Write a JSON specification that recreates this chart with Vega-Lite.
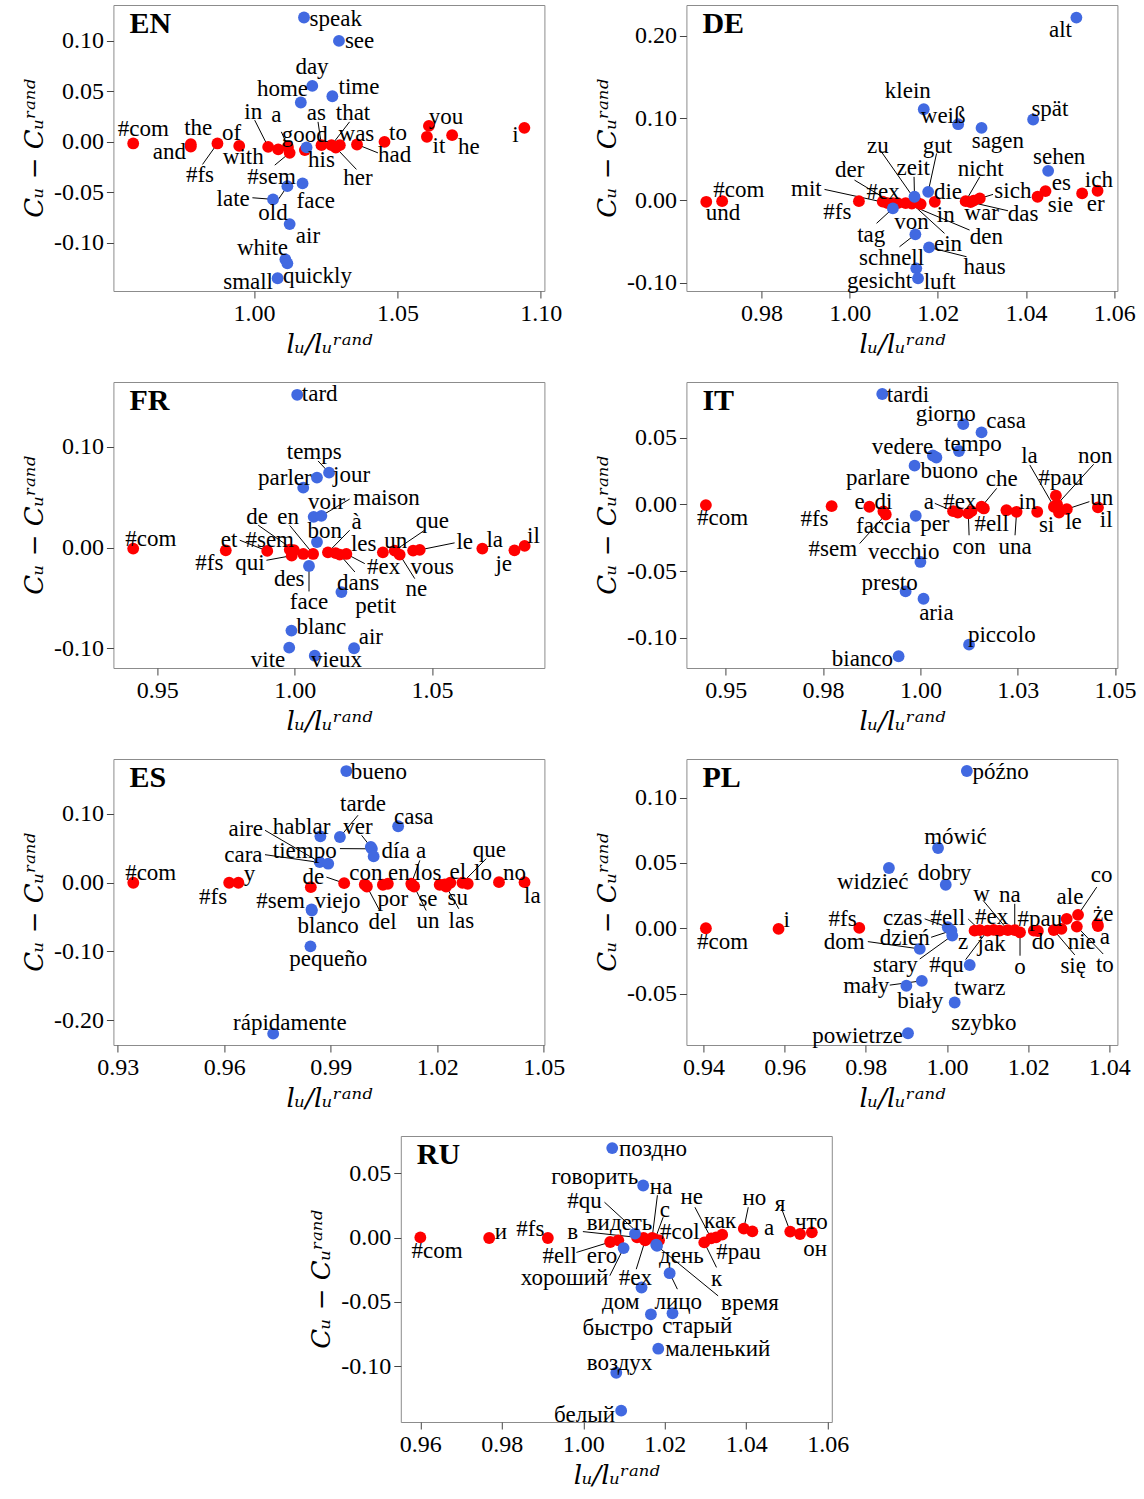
{
"$schema": "https://vega.github.io/schema/vega-lite/v6.json",
"padding": {"left": 20, "top": 4, "right": 0, "bottom": 0},
"background": "white",
"center": true,
"spacing": 23,
"datasets": {
"EN": [
{"w":"#com","t":"fn","x":0.9578,"y":-0.0016,"lx":0.9613,"ly":0.0123},
{"w":"the","t":"fn","x":0.9779,"y":-0.0023,"lx":0.9805,"ly":0.0139},
{"w":"and","t":"fn","x":0.9779,"y":-0.0048,"lx":0.9704,"ly":-0.0099},
{"w":"#fs","t":"fn","x":0.9872,"y":-0.0016,"lx":0.9811,"ly":-0.0330,"ex":0.9820,"ey":-0.0224},
{"w":"of","t":"fn","x":0.9948,"y":-0.0040,"lx":0.9921,"ly":0.0083},
{"w":"with","t":"fn","x":1.0084,"y":-0.0075,"lx":0.9962,"ly":-0.0149},
{"w":"in","t":"fn","x":1.0049,"y":-0.0050,"lx":0.9997,"ly":0.0297,"ex":1.0002,"ey":0.0215},
{"w":"a","t":"fn","x":1.0118,"y":-0.0050,"lx":1.0078,"ly":0.0264,"ex":1.0095,"ey":0.0099},
{"w":"#sem","t":"fn","x":1.0124,"y":-0.0109,"lx":1.0061,"ly":-0.0347,"ex":1.0072,"ey":-0.0231},
{"w":"his","t":"fn","x":1.0177,"y":-0.0082,"lx":1.0235,"ly":-0.0181},
{"w":"as","t":"fn","x":1.0235,"y":-0.0033,"lx":1.0217,"ly":0.0281,"ex":1.0223,"ey":0.0198},
{"w":"that","t":"fn","x":1.0270,"y":-0.0033,"lx":1.0345,"ly":0.0281,"ex":1.0333,"ey":0.0198},
{"w":"was","t":"fn","x":1.0299,"y":-0.0033,"lx":1.0357,"ly":0.0076},
{"w":"her","t":"fn","x":1.0285,"y":-0.0057,"lx":1.0362,"ly":-0.0362,"ex":1.0357,"ey":-0.0273},
{"w":"had","t":"fn","x":1.0359,"y":-0.0026,"lx":1.0490,"ly":-0.0132,"ex":1.0432,"ey":-0.0109},
{"w":"to","t":"fn","x":1.0455,"y":0.0000,"lx":1.0502,"ly":0.0083},
{"w":"you","t":"fn","x":1.0610,"y":0.0158,"lx":1.0670,"ly":0.0248},
{"w":"it","t":"fn","x":1.0603,"y":0.0050,"lx":1.0645,"ly":-0.0040},
{"w":"he","t":"fn","x":1.0691,"y":0.0066,"lx":1.0749,"ly":-0.0050},
{"w":"i","t":"fn","x":1.0943,"y":0.0139,"lx":1.0912,"ly":0.0066},
{"w":"speak","t":"ct","x":1.0174,"y":0.1232,"lx":1.0285,"ly":0.1222},
{"w":"see","t":"ct","x":1.0296,"y":0.1000,"lx":1.0368,"ly":0.1000},
{"w":"day","t":"ct","x":1.0203,"y":0.0554,"lx":1.0202,"ly":0.0743},
{"w":"home","t":"ct","x":1.0163,"y":0.0390,"lx":1.0099,"ly":0.0519},
{"w":"time","t":"ct","x":1.0273,"y":0.0452,"lx":1.0366,"ly":0.0539},
{"w":"good","t":"ct","x":1.0183,"y":-0.0055,"lx":1.0177,"ly":0.0066},
{"w":"face","t":"ct","x":1.0169,"y":-0.0412,"lx":1.0215,"ly":-0.0587},
{"w":"old","t":"ct","x":1.0116,"y":-0.0439,"lx":1.0066,"ly":-0.0709,"ex":1.0075,"ey":-0.0610},
{"w":"late","t":"ct","x":1.0066,"y":-0.0570,"lx":0.9927,"ly":-0.0570,"ex":0.9994,"ey":-0.0554},
{"w":"air","t":"ct","x":1.0124,"y":-0.0815,"lx":1.0188,"ly":-0.0934},
{"w":"white","t":"ct","x":1.0109,"y":-0.1164,"lx":1.0029,"ly":-0.1055},
{"w":"quickly","t":"ct","x":1.0116,"y":-0.1204,"lx":1.0221,"ly":-0.1330},
{"w":"small","t":"ct","x":1.0082,"y":-0.1352,"lx":0.9979,"ly":-0.1386}
],
"DE": [
{"w":"und","t":"fn","x":0.9675,"y":-0.0017,"lx":0.9713,"ly":-0.0158},
{"w":"#com","t":"fn","x":0.9711,"y":-0.0009,"lx":0.9749,"ly":0.0125},
{"w":"#fs","t":"fn","x":1.0021,"y":-0.0009,"lx":0.9972,"ly":-0.0139},
{"w":"#ex","t":"fn","x":1.0075,"y":-0.0015,"lx":1.0076,"ly":0.0104},
{"w":"mit","t":"fn","x":1.0086,"y":-0.0033,"lx":0.9902,"ly":0.0134,"ex":0.9943,"ey":0.0134},
{"w":"der","t":"fn","x":1.0098,"y":-0.0033,"lx":1.0000,"ly":0.0368,"ex":1.0011,"ey":0.0247},
{"w":"von","t":"fn","x":1.0109,"y":-0.0033,"lx":1.0140,"ly":-0.0260},
{"w":"den","t":"fn","x":1.0127,"y":-0.0033,"lx":1.0310,"ly":-0.0450,"ex":1.0272,"ey":-0.0361},
{"w":"ein","t":"fn","x":1.0141,"y":-0.0039,"lx":1.0223,"ly":-0.0531,"ex":1.0215,"ey":-0.0401},
{"w":"zu","t":"fn","x":1.0152,"y":-0.0021,"lx":1.0064,"ly":0.0663,"ex":1.0072,"ey":0.0591},
{"w":"in","t":"fn","x":1.0161,"y":-0.0045,"lx":1.0218,"ly":-0.0180},
{"w":"die","t":"fn","x":1.0193,"y":-0.0017,"lx":1.0223,"ly":0.0104},
{"w":"nicht","t":"fn","x":1.0263,"y":-0.0009,"lx":1.0297,"ly":0.0377,"ex":1.0295,"ey":0.0287},
{"w":"das","t":"fn","x":1.0274,"y":-0.0021,"lx":1.0393,"ly":-0.0170,"ex":1.0359,"ey":-0.0126},
{"w":"war","t":"fn","x":1.0281,"y":-0.0002,"lx":1.0299,"ly":-0.0158},
{"w":"sich","t":"fn","x":1.0295,"y":0.0024,"lx":1.0370,"ly":0.0117,"ex":1.0325,"ey":0.0073},
{"w":"sie","t":"fn","x":1.0426,"y":0.0044,"lx":1.0478,"ly":-0.0057},
{"w":"es","t":"fn","x":1.0444,"y":0.0113,"lx":1.0480,"ly":0.0214},
{"w":"er","t":"fn","x":1.0527,"y":0.0085,"lx":1.0558,"ly":-0.0045},
{"w":"ich","t":"fn","x":1.0562,"y":0.0117,"lx":1.0565,"ly":0.0247},
{"w":"alt","t":"ct","x":1.0514,"y":0.2224,"lx":1.0478,"ly":0.2078},
{"w":"klein","t":"ct","x":1.0168,"y":0.1109,"lx":1.0132,"ly":0.1332},
{"w":"weiß","t":"ct","x":1.0246,"y":0.0927,"lx":1.0212,"ly":0.1024},
{"w":"sagen","t":"ct","x":1.0299,"y":0.0882,"lx":1.0336,"ly":0.0724},
{"w":"spät","t":"ct","x":1.0416,"y":0.0984,"lx":1.0454,"ly":0.1106},
{"w":"sehen","t":"ct","x":1.0450,"y":0.0360,"lx":1.0475,"ly":0.0522},
{"w":"zeit","t":"ct","x":1.0147,"y":0.0044,"lx":1.0144,"ly":0.0389,"ex":1.0146,"ey":0.0287},
{"w":"gut","t":"ct","x":1.0178,"y":0.0104,"lx":1.0199,"ly":0.0663,"ex":1.0197,"ey":0.0571},
{"w":"tag","t":"ct","x":1.0098,"y":-0.0097,"lx":1.0049,"ly":-0.0422,"ex":1.0061,"ey":-0.0279},
{"w":"schnell","t":"ct","x":1.0149,"y":-0.0413,"lx":1.0095,"ly":-0.0697,"ex":1.0113,"ey":-0.0564},
{"w":"haus","t":"ct","x":1.0180,"y":-0.0571,"lx":1.0306,"ly":-0.0807,"ex":1.0265,"ey":-0.0685},
{"w":"gesicht","t":"ct","x":1.0151,"y":-0.0826,"lx":1.0068,"ly":-0.0977},
{"w":"luft","t":"ct","x":1.0155,"y":-0.0948,"lx":1.0204,"ly":-0.0989}
],
"FR": [
{"w":"#com","t":"fn","x":0.9412,"y":-0.0010,"lx":0.9476,"ly":0.0090},
{"w":"#fs","t":"fn","x":0.9749,"y":-0.0027,"lx":0.9689,"ly":-0.0149},
{"w":"et","t":"fn","x":0.9900,"y":-0.0033,"lx":0.9761,"ly":0.0080,"ex":0.9800,"ey":0.0073},
{"w":"#sem","t":"fn","x":0.9982,"y":-0.0020,"lx":0.9909,"ly":0.0080},
{"w":"de","t":"fn","x":0.9997,"y":-0.0025,"lx":0.9863,"ly":0.0305,"ex":0.9867,"ey":0.0222},
{"w":"qui","t":"fn","x":0.9989,"y":-0.0080,"lx":0.9837,"ly":-0.0149,"ex":0.9897,"ey":-0.0126},
{"w":"des","t":"fn","x":1.0031,"y":-0.0063,"lx":0.9980,"ly":-0.0308},
{"w":"en","t":"fn","x":1.0067,"y":-0.0063,"lx":0.9976,"ly":0.0301,"ex":0.9982,"ey":0.0219},
{"w":"à","t":"fn","x":1.0121,"y":-0.0047,"lx":1.0225,"ly":0.0256,"ex":1.0200,"ey":0.0172},
{"w":"les","t":"fn","x":1.0149,"y":-0.0055,"lx":1.0251,"ly":0.0040},
{"w":"dans","t":"fn","x":1.0164,"y":-0.0070,"lx":1.0231,"ly":-0.0348,"ex":1.0219,"ey":-0.0242},
{"w":"#ex","t":"fn","x":1.0188,"y":-0.0063,"lx":1.0324,"ly":-0.0192,"ex":1.0255,"ey":-0.0159},
{"w":"un","t":"fn","x":1.0321,"y":-0.0047,"lx":1.0368,"ly":0.0067},
{"w":"que","t":"fn","x":1.0364,"y":-0.0030,"lx":1.0501,"ly":0.0262,"ex":1.0473,"ey":0.0172},
{"w":"ne","t":"fn","x":1.0382,"y":-0.0070,"lx":1.0443,"ly":-0.0415,"ex":1.0437,"ey":-0.0308},
{"w":"vous","t":"fn","x":1.0431,"y":-0.0030,"lx":1.0501,"ly":-0.0192},
{"w":"le","t":"fn","x":1.0455,"y":-0.0023,"lx":1.0619,"ly":0.0057,"ex":1.0582,"ey":0.0047},
{"w":"la","t":"fn","x":1.0683,"y":-0.0010,"lx":1.0728,"ly":0.0080},
{"w":"je","t":"fn","x":1.0800,"y":-0.0027,"lx":1.0761,"ly":-0.0159},
{"w":"il","t":"fn","x":1.0837,"y":0.0017,"lx":1.0869,"ly":0.0112},
{"w":"tard","t":"ct","x":1.0009,"y":0.1515,"lx":1.0091,"ly":0.1522},
{"w":"temps","t":"ct","x":1.0125,"y":0.0743,"lx":1.0071,"ly":0.0945,"ex":1.0085,"ey":0.0859},
{"w":"jour","t":"ct","x":1.0081,"y":0.0694,"lx":1.0207,"ly":0.0719},
{"w":"parler","t":"ct","x":1.0031,"y":0.0594,"lx":0.9964,"ly":0.0694},
{"w":"voir","t":"ct","x":1.0069,"y":0.0305,"lx":1.0116,"ly":0.0455},
{"w":"maison","t":"ct","x":1.0097,"y":0.0315,"lx":1.0334,"ly":0.0495,"ex":1.0200,"ey":0.0481},
{"w":"bon","t":"ct","x":1.0081,"y":0.0055,"lx":1.0109,"ly":0.0162},
{"w":"face","t":"ct","x":1.0052,"y":-0.0182,"lx":1.0052,"ly":-0.0540,"ex":1.0052,"ey":-0.0435},
{"w":"petit","t":"ct","x":1.0170,"y":-0.0441,"lx":1.0295,"ly":-0.0584},
{"w":"blanc","t":"ct","x":0.9988,"y":-0.0823,"lx":1.0097,"ly":-0.0789},
{"w":"vite","t":"ct","x":0.9980,"y":-0.0992,"lx":0.9903,"ly":-0.1114},
{"w":"vieux","t":"ct","x":1.0073,"y":-0.1072,"lx":1.0152,"ly":-0.1114},
{"w":"air","t":"ct","x":1.0216,"y":-0.0998,"lx":1.0277,"ly":-0.0889}
],
"IT": [
{"w":"#com","t":"fn","x":0.9449,"y":-0.0006,"lx":0.9492,"ly":-0.0106},
{"w":"#fs","t":"fn","x":0.9772,"y":-0.0014,"lx":0.9728,"ly":-0.0111},
{"w":"e","t":"fn","x":0.9869,"y":-0.0018,"lx":0.9844,"ly":0.0014},
{"w":"di","t":"fn","x":0.9905,"y":-0.0053,"lx":0.9905,"ly":0.0020},
{"w":"#sem","t":"fn","x":0.9911,"y":-0.0076,"lx":0.9775,"ly":-0.0332,"ex":0.9844,"ey":-0.0294},
{"w":"a","t":"fn","x":1.0084,"y":-0.0051,"lx":1.0022,"ly":0.0014,"ex":1.0037,"ey":0.0007},
{"w":"#ex","t":"fn","x":1.0096,"y":-0.0061,"lx":1.0101,"ly":0.0020},
{"w":"per","t":"fn","x":1.0131,"y":-0.0051,"lx":1.0037,"ly":-0.0151},
{"w":"con","t":"fn","x":1.0123,"y":-0.0068,"lx":1.0125,"ly":-0.0319,"ex":1.0125,"ey":-0.0232},
{"w":"#ell","t":"fn","x":1.0163,"y":-0.0031,"lx":1.0183,"ly":-0.0144},
{"w":"che","t":"fn","x":1.0157,"y":-0.0018,"lx":1.0209,"ly":0.0190,"ex":1.0196,"ey":0.0120},
{"w":"in","t":"fn","x":1.0221,"y":-0.0044,"lx":1.0275,"ly":0.0020},
{"w":"una","t":"fn","x":1.0247,"y":-0.0056,"lx":1.0243,"ly":-0.0319,"ex":1.0243,"ey":-0.0232},
{"w":"si","t":"fn","x":1.0300,"y":-0.0056,"lx":1.0324,"ly":-0.0157},
{"w":"la","t":"fn","x":1.0343,"y":-0.0018,"lx":1.0280,"ly":0.0366,"ex":1.0281,"ey":0.0295},
{"w":"#pau","t":"fn","x":1.0348,"y":0.0065,"lx":1.0361,"ly":0.0195},
{"w":"non","t":"fn","x":1.0351,"y":-0.0001,"lx":1.0449,"ly":0.0366,"ex":1.0445,"ey":0.0300},
{"w":"le","t":"fn","x":1.0356,"y":-0.0061,"lx":1.0393,"ly":-0.0136},
{"w":"un","t":"fn","x":1.0376,"y":-0.0036,"lx":1.0466,"ly":0.0050,"ex":1.0434,"ey":0.0020},
{"w":"il","t":"fn","x":1.0456,"y":-0.0023,"lx":1.0477,"ly":-0.0119},
{"w":"tardi","t":"ct","x":0.9902,"y":0.0827,"lx":0.9968,"ly":0.0822},
{"w":"giorno","t":"ct","x":1.0110,"y":0.0601,"lx":1.0065,"ly":0.0676},
{"w":"casa","t":"ct","x":1.0157,"y":0.0539,"lx":1.0220,"ly":0.0626},
{"w":"vedere","t":"ct","x":1.0032,"y":0.0366,"lx":0.9954,"ly":0.0433},
{"w":"buono","t":"ct","x":1.0041,"y":0.0351,"lx":1.0074,"ly":0.0253},
{"w":"tempo","t":"ct","x":1.0099,"y":0.0400,"lx":1.0135,"ly":0.0451},
{"w":"parlare","t":"ct","x":0.9985,"y":0.0290,"lx":0.9891,"ly":0.0200},
{"w":"faccia","t":"ct","x":0.9988,"y":-0.0086,"lx":0.9905,"ly":-0.0164},
{"w":"vecchio","t":"ct","x":1.0000,"y":-0.0432,"lx":0.9957,"ly":-0.0357},
{"w":"presto","t":"ct","x":0.9962,"y":-0.0653,"lx":0.9921,"ly":-0.0588},
{"w":"aria","t":"ct","x":1.0008,"y":-0.0708,"lx":1.0041,"ly":-0.0816},
{"w":"piccolo","t":"ct","x":1.0125,"y":-0.1052,"lx":1.0209,"ly":-0.0979},
{"w":"bianco","t":"ct","x":0.9944,"y":-0.1139,"lx":0.9851,"ly":-0.1160}
],
"ES": [
{"w":"#com","t":"fn","x":0.9344,"y":-0.0003,"lx":0.9393,"ly":0.0143},
{"w":"#fs","t":"fn","x":0.9614,"y":-0.0003,"lx":0.9569,"ly":-0.0213},
{"w":"y","t":"fn","x":0.9640,"y":-0.0003,"lx":0.9671,"ly":0.0128},
{"w":"#sem","t":"fn","x":0.9844,"y":-0.0067,"lx":0.9759,"ly":-0.0261},
{"w":"de","t":"fn","x":0.9938,"y":-0.0009,"lx":0.9851,"ly":0.0079,"ex":0.9888,"ey":0.0079},
{"w":"con","t":"fn","x":0.9996,"y":-0.0028,"lx":0.9999,"ly":0.0143},
{"w":"del","t":"fn","x":1.0002,"y":-0.0057,"lx":1.0046,"ly":-0.0577,"ex":1.0038,"ey":-0.0407},
{"w":"por","t":"fn","x":1.0047,"y":-0.0032,"lx":1.0075,"ly":-0.0236},
{"w":"en","t":"fn","x":1.0061,"y":-0.0017,"lx":1.0092,"ly":0.0143},
{"w":"a","t":"fn","x":1.0127,"y":-0.0017,"lx":1.0155,"ly":0.0453,"ex":1.0151,"ey":0.0322},
{"w":"se","t":"fn","x":1.0129,"y":-0.0035,"lx":1.0174,"ly":-0.0236},
{"w":"un","t":"fn","x":1.0135,"y":-0.0057,"lx":1.0174,"ly":-0.0563,"ex":1.0169,"ey":-0.0407},
{"w":"los","t":"fn","x":1.0207,"y":-0.0032,"lx":1.0174,"ly":0.0143},
{"w":"su","t":"fn","x":1.0221,"y":-0.0028,"lx":1.0258,"ly":-0.0227},
{"w":"las","t":"fn","x":1.0225,"y":-0.0057,"lx":1.0268,"ly":-0.0552,"ex":1.0261,"ey":-0.0382},
{"w":"el","t":"fn","x":1.0237,"y":-0.0003,"lx":1.0258,"ly":0.0152},
{"w":"que","t":"fn","x":1.0271,"y":-0.0003,"lx":1.0347,"ly":0.0478,"ex":1.0338,"ey":0.0347},
{"w":"lo","t":"fn","x":1.0286,"y":-0.0017,"lx":1.0329,"ly":0.0143},
{"w":"no","t":"fn","x":1.0374,"y":0.0006,"lx":1.0418,"ly":0.0143},
{"w":"la","t":"fn","x":1.0446,"y":0.0006,"lx":1.0468,"ly":-0.0198},
{"w":"bueno","t":"ct","x":0.9944,"y":0.1620,"lx":1.0036,"ly":0.1601},
{"w":"tarde","t":"ct","x":0.9926,"y":0.0662,"lx":0.9991,"ly":0.1134,"ex":0.9977,"ey":0.0978},
{"w":"casa","t":"ct","x":1.0090,"y":0.0818,"lx":1.0134,"ly":0.0953},
{"w":"hablar","t":"ct","x":0.9871,"y":0.0672,"lx":0.9818,"ly":0.0808},
{"w":"ver","t":"ct","x":1.0013,"y":0.0516,"lx":0.9977,"ly":0.0808,"ex":0.9987,"ey":0.0687},
{"w":"tiempo","t":"ct","x":1.0016,"y":0.0490,"lx":0.9827,"ly":0.0453,"ex":0.9926,"ey":0.0493},
{"w":"día","t":"ct","x":1.0021,"y":0.0380,"lx":1.0083,"ly":0.0453},
{"w":"aire","t":"ct","x":0.9869,"y":0.0297,"lx":0.9661,"ly":0.0774,"ex":0.9715,"ey":0.0759},
{"w":"cara","t":"ct","x":0.9893,"y":0.0274,"lx":0.9654,"ly":0.0405,"ex":0.9715,"ey":0.0405},
{"w":"viejo","t":"ct","x":0.9846,"y":-0.0392,"lx":0.9919,"ly":-0.0261},
{"w":"blanco","t":"ct","x":0.9847,"y":-0.0407,"lx":0.9893,"ly":-0.0625},
{"w":"pequeño","t":"ct","x":0.9843,"y":-0.0927,"lx":0.9893,"ly":-0.1111},
{"w":"rápidamente","t":"ct","x":0.9738,"y":-0.2195,"lx":0.9785,"ly":-0.2044}
],
"PL": [
{"w":"#com","t":"fn","x":0.9406,"y":0.0000,"lx":0.9447,"ly":-0.0107},
{"w":"i","t":"fn","x":0.9585,"y":-0.0005,"lx":0.9605,"ly":0.0067},
{"w":"#fs","t":"fn","x":0.9784,"y":0.0003,"lx":0.9743,"ly":0.0072},
{"w":"z","t":"fn","x":1.0068,"y":-0.0018,"lx":1.0040,"ly":-0.0107},
{"w":"#ell","t":"fn","x":1.0081,"y":-0.0014,"lx":1.0002,"ly":0.0080,"ex":1.0052,"ey":0.0072},
{"w":"#qu","t":"fn","x":1.0100,"y":-0.0018,"lx":0.9999,"ly":-0.0281,"ex":1.0046,"ey":-0.0240},
{"w":"#ex","t":"fn","x":1.0115,"y":-0.0012,"lx":1.0110,"ly":0.0084},
{"w":"jak","t":"fn","x":1.0130,"y":-0.0018,"lx":1.0110,"ly":-0.0120},
{"w":"w","t":"fn","x":1.0150,"y":-0.0014,"lx":1.0085,"ly":0.0264,"ex":1.0089,"ey":0.0213},
{"w":"na","t":"fn","x":1.0167,"y":-0.0014,"lx":1.0155,"ly":0.0251,"ex":1.0167,"ey":0.0187},
{"w":"o","t":"fn","x":1.0180,"y":-0.0031,"lx":1.0180,"ly":-0.0299,"ex":1.0180,"ey":-0.0210},
{"w":"#pau","t":"fn","x":1.0214,"y":-0.0018,"lx":1.0229,"ly":0.0072},
{"w":"do","t":"fn","x":1.0224,"y":-0.0021,"lx":1.0237,"ly":-0.0107},
{"w":"się","t":"fn","x":1.0263,"y":-0.0014,"lx":1.0311,"ly":-0.0286,"ex":1.0315,"ey":-0.0204},
{"w":"nie","t":"fn","x":1.0282,"y":-0.0005,"lx":1.0332,"ly":-0.0107},
{"w":"ale","t":"fn","x":1.0295,"y":0.0072,"lx":1.0303,"ly":0.0238},
{"w":"co","t":"fn","x":1.0323,"y":0.0103,"lx":1.0381,"ly":0.0405,"ex":1.0369,"ey":0.0315},
{"w":"to","t":"fn","x":1.0320,"y":0.0013,"lx":1.0389,"ly":-0.0281,"ex":1.0385,"ey":-0.0197},
{"w":"że","t":"fn","x":1.0371,"y":0.0032,"lx":1.0385,"ly":0.0111},
{"w":"a","t":"fn","x":1.0372,"y":0.0017,"lx":1.0389,"ly":-0.0069},
{"w":"późno","t":"ct","x":1.0049,"y":0.1203,"lx":1.0132,"ly":0.1198},
{"w":"mówić","t":"ct","x":0.9978,"y":0.0614,"lx":1.0021,"ly":0.0699},
{"w":"widzieć","t":"ct","x":0.9857,"y":0.0461,"lx":0.9817,"ly":0.0353},
{"w":"dobry","t":"ct","x":0.9997,"y":0.0333,"lx":0.9994,"ly":0.0425},
{"w":"czas","t":"ct","x":1.0002,"y":0.0008,"lx":0.9891,"ly":0.0080,"ex":0.9945,"ey":0.0072},
{"w":"dzień","t":"ct","x":1.0011,"y":-0.0018,"lx":0.9896,"ly":-0.0077,"ex":0.9961,"ey":-0.0069},
{"w":"stary","t":"ct","x":1.0013,"y":-0.0056,"lx":0.9873,"ly":-0.0281,"ex":0.9933,"ey":-0.0235},
{"w":"dom","t":"ct","x":0.9933,"y":-0.0158,"lx":0.9747,"ly":-0.0107,"ex":0.9805,"ey":-0.0102},
{"w":"twarz","t":"ct","x":1.0056,"y":-0.0281,"lx":1.0081,"ly":-0.0458},
{"w":"mały","t":"ct","x":0.9938,"y":-0.0402,"lx":0.9801,"ly":-0.0440,"ex":0.9859,"ey":-0.0435},
{"w":"biały","t":"ct","x":0.9900,"y":-0.0440,"lx":0.9934,"ly":-0.0555},
{"w":"szybko","t":"ct","x":1.0019,"y":-0.0568,"lx":1.0091,"ly":-0.0722},
{"w":"powietrze","t":"ct","x":0.9904,"y":-0.0803,"lx":0.9780,"ly":-0.0824}
],
"RU": [
{"w":"#com","t":"fn","x":0.9600,"y":0.0001,"lx":0.9641,"ly":-0.0102},
{"w":"и","t":"fn","x":0.9769,"y":-0.0004,"lx":0.9798,"ly":0.0040},
{"w":"#fs","t":"fn","x":0.9913,"y":-0.0004,"lx":0.9870,"ly":0.0066},
{"w":"#ell","t":"fn","x":1.0066,"y":-0.0035,"lx":0.9942,"ly":-0.0141,"ex":0.9983,"ey":-0.0116},
{"w":"его","t":"fn","x":1.0086,"y":-0.0022,"lx":1.0046,"ly":-0.0147},
{"w":"в","t":"fn","x":1.0132,"y":0.0001,"lx":0.9974,"ly":0.0040,"ex":0.9999,"ey":0.0046},
{"w":"#qu","t":"fn","x":1.0148,"y":-0.0004,"lx":1.0003,"ly":0.0287,"ex":1.0052,"ey":0.0274},
{"w":"#ex","t":"fn","x":1.0152,"y":-0.0022,"lx":1.0128,"ly":-0.0318,"ex":1.0130,"ey":-0.0246},
{"w":"на","t":"fn","x":1.0169,"y":-0.0003,"lx":1.0191,"ly":0.0391,"ex":1.0182,"ey":0.0328},
{"w":"с","t":"fn","x":1.0176,"y":-0.0014,"lx":1.0200,"ly":0.0217,"ex":1.0196,"ey":0.0157},
{"w":"#col","t":"fn","x":1.0186,"y":-0.0022,"lx":1.0237,"ly":0.0046},
{"w":"к","t":"fn","x":1.0297,"y":-0.0038,"lx":1.0327,"ly":-0.0324,"ex":1.0327,"ey":-0.0232},
{"w":"не","t":"fn","x":1.0314,"y":-0.0007,"lx":1.0266,"ly":0.0313,"ex":1.0274,"ey":0.0235},
{"w":"как","t":"fn","x":1.0326,"y":0.0001,"lx":1.0336,"ly":0.0131},
{"w":"#pau","t":"fn","x":1.0341,"y":0.0022,"lx":1.0381,"ly":-0.0116},
{"w":"но","t":"fn","x":1.0394,"y":0.0069,"lx":1.0420,"ly":0.0305,"ex":1.0405,"ey":0.0235},
{"w":"а","t":"fn","x":1.0415,"y":0.0048,"lx":1.0456,"ly":0.0071},
{"w":"я","t":"fn","x":1.0508,"y":0.0046,"lx":1.0483,"ly":0.0261,"ex":1.0487,"ey":0.0222},
{"w":"он","t":"fn","x":1.0532,"y":0.0027,"lx":1.0569,"ly":-0.0090},
{"w":"что","t":"fn","x":1.0561,"y":0.0040,"lx":1.0560,"ly":0.0118},
{"w":"поздно","t":"ct","x":1.0071,"y":0.0694,"lx":1.0171,"ly":0.0689},
{"w":"говорить","t":"ct","x":1.0147,"y":0.0404,"lx":1.0028,"ly":0.0468},
{"w":"видеть","t":"ct","x":1.0127,"y":0.0030,"lx":1.0089,"ly":0.0113},
{"w":"хороший","t":"ct","x":1.0099,"y":-0.0082,"lx":0.9954,"ly":-0.0318,"ex":1.0065,"ey":-0.0297},
{"w":"день","t":"ct","x":1.0179,"y":-0.0056,"lx":1.0241,"ly":-0.0147},
{"w":"время","t":"ct","x":1.0181,"y":-0.0065,"lx":1.0409,"ly":-0.0511,"ex":1.0331,"ey":-0.0453},
{"w":"лицо","t":"ct","x":1.0212,"y":-0.0277,"lx":1.0233,"ly":-0.0500,"ex":1.0231,"ey":-0.0401},
{"w":"дом","t":"ct","x":1.0143,"y":-0.0388,"lx":1.0092,"ly":-0.0500},
{"w":"быстро","t":"ct","x":1.0166,"y":-0.0596,"lx":1.0085,"ly":-0.0700},
{"w":"старый","t":"ct","x":1.0219,"y":-0.0588,"lx":1.0280,"ly":-0.0687},
{"w":"маленький","t":"ct","x":1.0184,"y":-0.0863,"lx":1.0330,"ly":-0.0869},
{"w":"воздух","t":"ct","x":1.0081,"y":-0.1050,"lx":1.0089,"ly":-0.0972},
{"w":"белый","t":"ct","x":1.0093,"y":-0.1344,"lx":1.0003,"ly":-0.1375}
]
},
"vconcat": [
{"columns": 2, "bounds": "flush", "spacing": {"row": 91, "column": 142}, "concat": [
{"width": 431, "height": 286, "title": {"text": "EN"}, "data": {"name": "EN"},
"encoding": {"x": {"field": "x", "type": "quantitative", "scale": {"domain": [0.9509, 1.1013], "nice": false, "zero": false}, "axis": {"values": [1.0, 1.05, 1.1], "title": "lᵤ/lᵤʳᵃⁿᵈ"}},
"y": {"field": "y", "type": "quantitative", "scale": {"domain": [-0.1478, 0.1356], "nice": false, "zero": false}, "axis": {"values": [-0.1, -0.05, 0, 0.05, 0.1], "title": "Cᵤ − Cᵤʳᵃⁿᵈ"}}},
"layer": [
{"transform": [{"filter": "isValid(datum.ex)"}], "mark": {"type": "rule", "color": "black", "strokeWidth": 1}, "encoding": {"x2": {"field": "ex"}, "y2": {"field": "ey"}}},
{"mark": {"type": "circle", "size": 140, "opacity": 1}, "encoding": {"color": {"field": "t", "type": "nominal", "scale": {"domain": ["fn", "ct"], "range": ["#ff0000", "#4169e1"]}, "legend": null}, "order": {"field": "t", "sort": "descending"}}},
{"mark": {"type": "text", "font": "Liberation Serif", "fontSize": 23, "color": "black"}, "encoding": {
"x": {"field": "lx", "type": "quantitative", "scale": {"domain": [0.9509, 1.1013], "nice": false, "zero": false}, "axis": {"values": [1.0, 1.05, 1.1], "title": "lᵤ/lᵤʳᵃⁿᵈ"}},
"y": {"field": "ly", "type": "quantitative", "scale": {"domain": [-0.1478, 0.1356], "nice": false, "zero": false}, "axis": {"values": [-0.1, -0.05, 0, 0.05, 0.1], "title": "Cᵤ − Cᵤʳᵃⁿᵈ"}},
"text": {"field": "w"}}}
]},
{"width": 431, "height": 286, "title": {"text": "DE"}, "data": {"name": "DE"},
"encoding": {"x": {"field": "x", "type": "quantitative", "scale": {"domain": [0.9630, 1.0607], "nice": false, "zero": false}, "axis": {"values": [0.98, 1.0, 1.02, 1.04, 1.06], "title": "lᵤ/lᵤʳᵃⁿᵈ"}},
"y": {"field": "y", "type": "quantitative", "scale": {"domain": [-0.1102, 0.2377], "nice": false, "zero": false}, "axis": {"values": [-0.1, 0, 0.1, 0.2], "title": "Cᵤ − Cᵤʳᵃⁿᵈ"}}},
"layer": [
{"transform": [{"filter": "isValid(datum.ex)"}], "mark": {"type": "rule", "color": "black", "strokeWidth": 1}, "encoding": {"x2": {"field": "ex"}, "y2": {"field": "ey"}}},
{"mark": {"type": "circle", "size": 140, "opacity": 1}, "encoding": {"color": {"field": "t", "type": "nominal", "scale": {"domain": ["fn", "ct"], "range": ["#ff0000", "#4169e1"]}, "legend": null}, "order": {"field": "t", "sort": "descending"}}},
{"mark": {"type": "text", "font": "Liberation Serif", "fontSize": 23, "color": "black"}, "encoding": {
"x": {"field": "lx", "type": "quantitative", "scale": {"domain": [0.9630, 1.0607], "nice": false, "zero": false}, "axis": {"values": [0.98, 1.0, 1.02, 1.04, 1.06], "title": "lᵤ/lᵤʳᵃⁿᵈ"}},
"y": {"field": "ly", "type": "quantitative", "scale": {"domain": [-0.1102, 0.2377], "nice": false, "zero": false}, "axis": {"values": [-0.1, 0, 0.1, 0.2], "title": "Cᵤ − Cᵤʳᵃⁿᵈ"}},
"text": {"field": "w"}}}
]},
{"width": 431, "height": 286, "title": {"text": "FR"}, "data": {"name": "FR"},
"encoding": {"x": {"field": "x", "type": "quantitative", "scale": {"domain": [0.9340, 1.0909], "nice": false, "zero": false}, "axis": {"values": [0.95, 1.0, 1.05], "title": "lᵤ/lᵤʳᵃⁿᵈ"}},
"y": {"field": "y", "type": "quantitative", "scale": {"domain": [-0.1194, 0.1642], "nice": false, "zero": false}, "axis": {"values": [-0.1, 0, 0.1], "title": "Cᵤ − Cᵤʳᵃⁿᵈ"}}},
"layer": [
{"transform": [{"filter": "isValid(datum.ex)"}], "mark": {"type": "rule", "color": "black", "strokeWidth": 1}, "encoding": {"x2": {"field": "ex"}, "y2": {"field": "ey"}}},
{"mark": {"type": "circle", "size": 140, "opacity": 1}, "encoding": {"color": {"field": "t", "type": "nominal", "scale": {"domain": ["fn", "ct"], "range": ["#ff0000", "#4169e1"]}, "legend": null}, "order": {"field": "t", "sort": "descending"}}},
{"mark": {"type": "text", "font": "Liberation Serif", "fontSize": 23, "color": "black"}, "encoding": {
"x": {"field": "lx", "type": "quantitative", "scale": {"domain": [0.9340, 1.0909], "nice": false, "zero": false}, "axis": {"values": [0.95, 1.0, 1.05], "title": "lᵤ/lᵤʳᵃⁿᵈ"}},
"y": {"field": "ly", "type": "quantitative", "scale": {"domain": [-0.1194, 0.1642], "nice": false, "zero": false}, "axis": {"values": [-0.1, 0, 0.1], "title": "Cᵤ − Cᵤʳᵃⁿᵈ"}},
"text": {"field": "w"}}}
]},
{"width": 431, "height": 286, "title": {"text": "IT"}, "data": {"name": "IT"},
"encoding": {"x": {"field": "x", "type": "quantitative", "scale": {"domain": [0.9399, 1.0506], "nice": false, "zero": false}, "axis": {"values": [0.95, 0.975, 1.0, 1.025, 1.05], "title": "lᵤ/lᵤʳᵃⁿᵈ", "labelExpr": "datum.value > 0.97 && datum.value < 0.98 ? '0.98' : (datum.value > 1.02 && datum.value < 1.03 ? '1.03' : format(datum.value, '.2f'))"}},
"y": {"field": "y", "type": "quantitative", "scale": {"domain": [-0.1227, 0.0917], "nice": false, "zero": false}, "axis": {"values": [-0.1, -0.05, 0, 0.05], "title": "Cᵤ − Cᵤʳᵃⁿᵈ"}}},
"layer": [
{"transform": [{"filter": "isValid(datum.ex)"}], "mark": {"type": "rule", "color": "black", "strokeWidth": 1}, "encoding": {"x2": {"field": "ex"}, "y2": {"field": "ey"}}},
{"mark": {"type": "circle", "size": 140, "opacity": 1}, "encoding": {"color": {"field": "t", "type": "nominal", "scale": {"domain": ["fn", "ct"], "range": ["#ff0000", "#4169e1"]}, "legend": null}, "order": {"field": "t", "sort": "descending"}}},
{"mark": {"type": "text", "font": "Liberation Serif", "fontSize": 23, "color": "black"}, "encoding": {
"x": {"field": "lx", "type": "quantitative", "scale": {"domain": [0.9399, 1.0506], "nice": false, "zero": false}, "axis": {"values": [0.95, 0.975, 1.0, 1.025, 1.05], "title": "lᵤ/lᵤʳᵃⁿᵈ", "labelExpr": "datum.value > 0.97 && datum.value < 0.98 ? '0.98' : (datum.value > 1.02 && datum.value < 1.03 ? '1.03' : format(datum.value, '.2f'))"}},
"y": {"field": "ly", "type": "quantitative", "scale": {"domain": [-0.1227, 0.0917], "nice": false, "zero": false}, "axis": {"values": [-0.1, -0.05, 0, 0.05], "title": "Cᵤ − Cᵤʳᵃⁿᵈ"}},
"text": {"field": "w"}}}
]},
{"width": 431, "height": 286, "title": {"text": "ES"}, "data": {"name": "ES"},
"encoding": {"x": {"field": "x", "type": "quantitative", "scale": {"domain": [0.9288, 1.0502], "nice": false, "zero": false}, "axis": {"values": [0.93, 0.96, 0.99, 1.02, 1.05], "title": "lᵤ/lᵤʳᵃⁿᵈ"}},
"y": {"field": "y", "type": "quantitative", "scale": {"domain": [-0.2360, 0.1795], "nice": false, "zero": false}, "axis": {"values": [-0.2, -0.1, 0, 0.1], "title": "Cᵤ − Cᵤʳᵃⁿᵈ"}}},
"layer": [
{"transform": [{"filter": "isValid(datum.ex)"}], "mark": {"type": "rule", "color": "black", "strokeWidth": 1}, "encoding": {"x2": {"field": "ex"}, "y2": {"field": "ey"}}},
{"mark": {"type": "circle", "size": 140, "opacity": 1}, "encoding": {"color": {"field": "t", "type": "nominal", "scale": {"domain": ["fn", "ct"], "range": ["#ff0000", "#4169e1"]}, "legend": null}, "order": {"field": "t", "sort": "descending"}}},
{"mark": {"type": "text", "font": "Liberation Serif", "fontSize": 23, "color": "black"}, "encoding": {
"x": {"field": "lx", "type": "quantitative", "scale": {"domain": [0.9288, 1.0502], "nice": false, "zero": false}, "axis": {"values": [0.93, 0.96, 0.99, 1.02, 1.05], "title": "lᵤ/lᵤʳᵃⁿᵈ"}},
"y": {"field": "ly", "type": "quantitative", "scale": {"domain": [-0.2360, 0.1795], "nice": false, "zero": false}, "axis": {"values": [-0.2, -0.1, 0, 0.1], "title": "Cᵤ − Cᵤʳᵃⁿᵈ"}},
"text": {"field": "w"}}}
]},
{"width": 431, "height": 286, "title": {"text": "PL"}, "data": {"name": "PL"},
"encoding": {"x": {"field": "x", "type": "quantitative", "scale": {"domain": [0.9358, 1.0420], "nice": false, "zero": false}, "axis": {"values": [0.94, 0.96, 0.98, 1.0, 1.02, 1.04], "title": "lᵤ/lᵤʳᵃⁿᵈ"}},
"y": {"field": "y", "type": "quantitative", "scale": {"domain": [-0.0893, 0.1295], "nice": false, "zero": false}, "axis": {"values": [-0.05, 0, 0.05, 0.1], "title": "Cᵤ − Cᵤʳᵃⁿᵈ"}}},
"layer": [
{"transform": [{"filter": "isValid(datum.ex)"}], "mark": {"type": "rule", "color": "black", "strokeWidth": 1}, "encoding": {"x2": {"field": "ex"}, "y2": {"field": "ey"}}},
{"mark": {"type": "circle", "size": 140, "opacity": 1}, "encoding": {"color": {"field": "t", "type": "nominal", "scale": {"domain": ["fn", "ct"], "range": ["#ff0000", "#4169e1"]}, "legend": null}, "order": {"field": "t", "sort": "descending"}}},
{"mark": {"type": "text", "font": "Liberation Serif", "fontSize": 23, "color": "black"}, "encoding": {
"x": {"field": "lx", "type": "quantitative", "scale": {"domain": [0.9358, 1.0420], "nice": false, "zero": false}, "axis": {"values": [0.94, 0.96, 0.98, 1.0, 1.02, 1.04], "title": "lᵤ/lᵤʳᵃⁿᵈ"}},
"y": {"field": "ly", "type": "quantitative", "scale": {"domain": [-0.0893, 0.1295], "nice": false, "zero": false}, "axis": {"values": [-0.05, 0, 0.05, 0.1], "title": "Cᵤ − Cᵤʳᵃⁿᵈ"}},
"text": {"field": "w"}}}
]}
]},
{"width": 431, "height": 286, "title": {"text": "RU"}, "data": {"name": "RU"},
"encoding": {"x": {"field": "x", "type": "quantitative", "scale": {"domain": [0.9552, 1.0610], "nice": false, "zero": false}, "axis": {"values": [0.96, 0.98, 1.0, 1.02, 1.04, 1.06], "title": "lᵤ/lᵤʳᵃⁿᵈ"}},
"y": {"field": "y", "type": "quantitative", "scale": {"domain": [-0.1432, 0.0788], "nice": false, "zero": false}, "axis": {"values": [-0.1, -0.05, 0, 0.05], "title": "Cᵤ − Cᵤʳᵃⁿᵈ"}}},
"layer": [
{"transform": [{"filter": "isValid(datum.ex)"}], "mark": {"type": "rule", "color": "black", "strokeWidth": 1}, "encoding": {"x2": {"field": "ex"}, "y2": {"field": "ey"}}},
{"mark": {"type": "circle", "size": 140, "opacity": 1}, "encoding": {"color": {"field": "t", "type": "nominal", "scale": {"domain": ["fn", "ct"], "range": ["#ff0000", "#4169e1"]}, "legend": null}, "order": {"field": "t", "sort": "descending"}}},
{"mark": {"type": "text", "font": "Liberation Serif", "fontSize": 23, "color": "black"}, "encoding": {
"x": {"field": "lx", "type": "quantitative", "scale": {"domain": [0.9552, 1.0610], "nice": false, "zero": false}, "axis": {"values": [0.96, 0.98, 1.0, 1.02, 1.04, 1.06], "title": "lᵤ/lᵤʳᵃⁿᵈ"}},
"y": {"field": "ly", "type": "quantitative", "scale": {"domain": [-0.1432, 0.0788], "nice": false, "zero": false}, "axis": {"values": [-0.1, -0.05, 0, 0.05], "title": "Cᵤ − Cᵤʳᵃⁿᵈ"}},
"text": {"field": "w"}}}
]}
],
"config": {
"font": "Liberation Serif",
"view": {"stroke": "#8c8c8c", "strokeWidth": 1},
"axis": {"labelFont": "Liberation Serif", "labelFontSize": 24, "labelColor": "#000000", "tickColor": "#444444", "tickSize": 7, "tickWidth": 1, "domain": false, "grid": false, "labelPadding": 3, "titleFont": "DejaVu Serif", "titleFontStyle": "italic", "titleFontWeight": "normal", "titleFontSize": 26, "titleColor": "#000000", "titlePadding": 6, "labelFlush": false, "labelOverlap": false, "labelExpr": "replace(format(datum.value, '.2f'), '\u2212', '-')"},
"title": {"font": "Liberation Serif", "fontSize": 30, "fontWeight": "bold", "color": "#000000", "anchor": "start", "frame": "group", "dx": 16, "offset": -34, "baseline": "alphabetic"}
}
}
